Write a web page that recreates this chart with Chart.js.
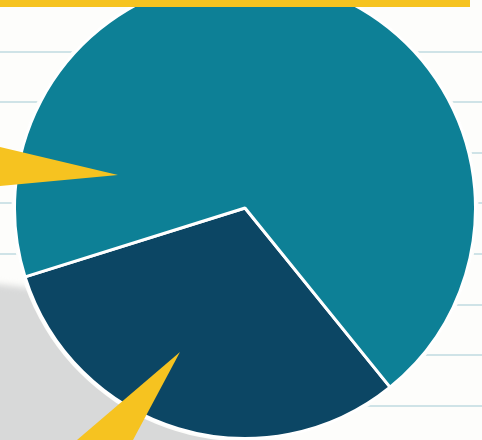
<!DOCTYPE html>
<html>
<head>
<meta charset="utf-8">
<script src="https://cdn.jsdelivr.net/npm/chart.js@4/dist/chart.umd.min.js"></script>
<style>
  html, body { margin: 0; padding: 0; width: 482px; height: 440px; overflow: hidden; background: #fdfdfb; }
  #wrap { position: absolute; left: 0; top: -32px; width: 490px; height: 480px; }
</style>
</head>
<body>
<div id="wrap"><canvas id="pie"></canvas></div>
<script>
// Two-part share shown as a pie
const categories = ['Segment B', 'Segment A'];
const shares = [31, 69];
const sliceColors = ['#0c4664', '#0d8096'];

const OFFSET_Y = 32; // canvas is shifted up by this many px

// Ruled paper backdrop and soft grey shadow behind the pie
const paperPlugin = {
  id: 'paper',
  beforeDraw(chart) {
    const ctx = chart.ctx;
    ctx.save();
    ctx.fillStyle = '#fdfdfb';
    ctx.fillRect(0, 0, chart.width, chart.height);
    ctx.strokeStyle = '#cfe3e7';
    ctx.lineWidth = 2;
    [52, 102, 153, 203, 254, 305, 355, 406].forEach(y => {
      ctx.beginPath();
      ctx.moveTo(0, y + OFFSET_Y);
      ctx.lineTo(chart.width, y + OFFSET_Y);
      ctx.stroke();
    });
    ctx.filter = 'blur(3px)';
    ctx.fillStyle = '#d8d9d9';
    ctx.beginPath();
    ctx.moveTo(-10, 283 + OFFSET_Y);
    ctx.lineTo(30, 288 + OFFSET_Y);
    ctx.lineTo(245, 460 + OFFSET_Y);
    ctx.lineTo(-10, 460 + OFFSET_Y);
    ctx.closePath();
    ctx.fill();
    ctx.restore();
    // white halo around the pie
    const arc = chart.getDatasetMeta(0).data[0];
    if (arc) {
      ctx.save();
      ctx.fillStyle = '#fdfdfb';
      ctx.beginPath();
      ctx.arc(arc.x, arc.y, arc.outerRadius + 3, 0, Math.PI * 2);
      ctx.fill();
      ctx.restore();
    }
  },
  afterDraw(chart) {
    const ctx = chart.ctx;
    ctx.save();
    ctx.fillStyle = '#f6c320';
    // top band
    ctx.fillRect(0, 0, 470, 7 + OFFSET_Y);
    // callout pointers
    ctx.beginPath();
    ctx.moveTo(0, 147 + OFFSET_Y);
    ctx.lineTo(118, 175 + OFFSET_Y);
    ctx.lineTo(0, 186 + OFFSET_Y);
    ctx.closePath();
    ctx.fill();
    ctx.beginPath();
    ctx.moveTo(180, 352 + OFFSET_Y);
    ctx.lineTo(133, 440 + OFFSET_Y);
    ctx.lineTo(77, 440 + OFFSET_Y);
    ctx.closePath();
    ctx.fill();
    ctx.restore();
  }
};

new Chart(document.getElementById('pie'), {
  type: 'pie',
  data: {
    labels: categories,
    datasets: [{
      data: shares,
      backgroundColor: sliceColors,
      borderColor: '#ffffff',
      borderWidth: 3
    }]
  },
  options: {
    responsive: true,
    maintainAspectRatio: false,
    animation: false,
    rotation: 141,
    layout: { padding: 8 },
    plugins: {
      legend: { display: false },
      tooltip: { enabled: false }
    }
  },
  plugins: [paperPlugin]
});
</script>
</body>
</html>
